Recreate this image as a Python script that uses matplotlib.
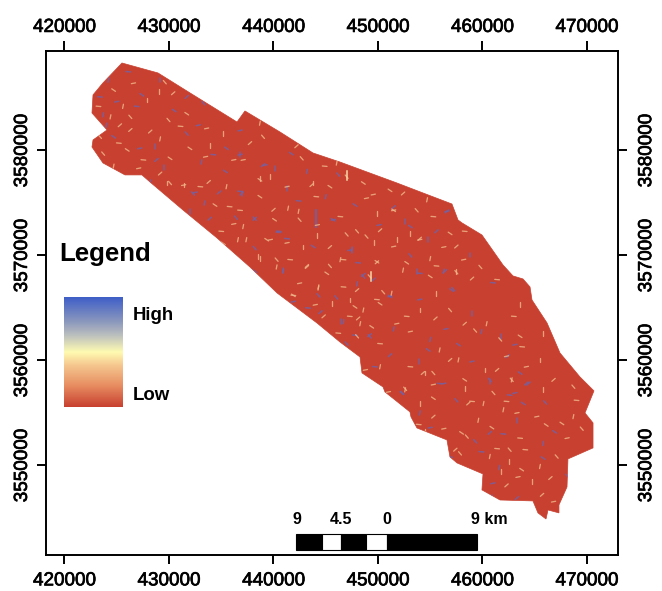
import numpy as np
import matplotlib
matplotlib.use("Agg")
import matplotlib.pyplot as plt
import matplotlib.patheffects as pe
from matplotlib.colors import LinearSegmentedColormap
from matplotlib.patches import Rectangle

plt.rcParams['font.family'] = ['Liberation Sans', 'DejaVu Sans']

# --- data (map units, km) ---
x_ticks = [420000, 430000, 440000, 450000, 460000, 470000]
y_ticks = [3550000, 3560000, 3570000, 3580000]

outline_x = [425.50,428.95,432.01,436.51,437.27,440.62,443.78,446.36,448.95,451.82,454.31,457.08,457.66,458.04,459.95,461.96,462.92,463.88,464.55,464.74,466.18,467.42,469.33,470.67,469.81,470.58,470.58,468.18,468.09,467.32,467.32,466.27,466.08,465.31,464.83,461.68,459.95,460.05,457.56,456.89,456.60,453.73,453.16,453.06,451.63,450.67,450.48,448.47,448.28,446.36,444.16,440.34,437.75,434.59,431.34,428.18,427.41,425.79,423.68,422.63,422.73,424.07,422.63,422.73,423.68]
outline_y = [3588.33,3587.38,3585.48,3582.71,3583.76,3581.76,3579.76,3578.90,3577.95,3576.90,3575.95,3574.90,3573.38,3573.10,3571.95,3569.10,3568.05,3567.76,3567.00,3565.76,3563.57,3560.71,3558.43,3557.10,3555.00,3554.05,3551.67,3550.62,3547.95,3546.24,3545.48,3545.76,3544.90,3545.48,3546.62,3546.71,3547.67,3549.19,3550.24,3550.81,3552.43,3553.57,3554.62,3555.10,3556.24,3557.00,3557.48,3558.81,3560.33,3561.76,3563.57,3566.43,3568.90,3571.67,3574.33,3577.00,3577.67,3577.67,3578.81,3580.33,3581.00,3581.95,3583.57,3585.29,3586.43]

blue_x = [439.19,440.15,436.96,438.2,440.47,440.94,443.8,445.73,447.5,449.56,448.6,448.1,443.2,441.7,436.8,441.26,456.6,453.1,454.0,456.3,457.05,451.15,454.8,451.5,446.2,
          426.1,424.2,427.4,425.0,429.15,431.7,433.3,423.4,423.7,424.7,427.2,428.7,428.8,431.7,434.25,433.1,435.4,436.8,436.8,439.0,432.3,436.8,428.2,435.5,
          432.5,437.0,438.2,438.2,440.5,440.9,438.2,441.9,446.5,449.2,447.0,449.7,448.0,445.7,447.3,432.0,433.9,444.3,441.3,433.4,
          451.15,454.0,453.7,456.4,457.2,461.0,459.9,457.7,459.0,453.9,451.15,449.2,447.8,446.7,463.6,463.1,461.8,464.4,452.3,455.9,447.5,453.1,456.6,458.8,448.6,460.7,462.6,455.0,
          463.9,463.1,463.3,460.7,459.3,459.9,465.8,465.8,461.0,460.9,463.3,468.1,456.9,454.0,452.3,456.3,460.7,464.2,457.5,
          426.9,424.0,430.5,432.8,429.5,434.8,436.4,442.4,445.0,447.8,450.1,452.6,455.6,446.0,443.3,451.5,454.8,456.5,459.0,462.4,466.0,462.0,461.6,466.9,455.0,448.0,444.5]
blue_y = [3578.6,3578.3,3575.9,3573.5,3572.2,3568.5,3570.85,3573.4,3570.5,3567.7,3568.0,3569.3,3578.0,3579.7,3579.6,3576.4,3574.2,3570.0,3568.3,3568.5,3566.7,3566.1,3571.5,3574.6,3577.7,
          3587.5,3586.7,3585.3,3584.65,3586.7,3585.1,3584.5,3585.1,3583.4,3581.3,3580.2,3580.4,3579.1,3581.6,3579.6,3578.9,3578.0,3581.9,3579.6,3578.6,3575.9,3576.1,3577.0,3580.2,
          3576.0,3575.9,3573.5,3570.7,3572.3,3568.6,3568.5,3565.6,3563.7,3562.4,3561.6,3559.4,3567.3,3573.4,3570.5,3574.2,3573.5,3566.2,3571.6,3575.0,
          3566.1,3565.8,3568.5,3568.5,3566.8,3567.4,3562.75,3561.5,3559.9,3559.9,3560.5,3562.3,3562.4,3563.7,3558.8,3561.5,3562.3,3557.8,3556.9,3557.8,3570.6,3572.75,3574.2,3570.05,3568.15,3558.15,3556.7,3562.0,
          3555.9,3556.9,3554.3,3553.1,3552.3,3551.3,3552.1,3550.7,3548.3,3547.0,3546.9,3549.0,3550.8,3555.0,3556.9,3557.8,3558.0,3557.8,3556.2,
          3584.2,3582.4,3583.8,3582.4,3578.4,3576.0,3573.6,3575.2,3575.6,3574.8,3572.9,3573.2,3572.3,3566.0,3565.0,3563.0,3561.0,3563.0,3564.5,3560.4,3556.0,3553.0,3549.8,3553.2,3553.6,3560.0,3564.6]

cream_x = [444.2,444.2,449.9,447.0,444.1,441.4,440.1,436.2,438.7,443.65,440.3,441.9,444.3,451.15,451.5,453.1,454.0,457.5,458.3,438.7,445.4,448.9,
           429.05,425.3,423.7,425.2,429.15,430.1,427.1,433.9,428.2,429.95,431.1,424.4,432.0,433.5,431.4,433.8,429.6,
           435.0,440.3,441.9,444.0,445.6,448.1,449.2,449.9,436.6,434.4,431.4,438.7,443.2,447.0,446.2,444.3,
           449.9,454.0,457.5,458.3,459.3,452.75,451.3,447.8,453.1,454.5,461.4,462.8,463.8,452.6,458.3,451.0,465.8,459.0,461.7,447.3,457.7,451.5,448.8,463.6,
           454.3,452.6,459.0,459.6,460.9,465.2,461.8,466.5,457.85,453.9,460.1,467.6,468.1,462.5,465.7,469.5,463.6,462.8,455.3,
           455.3,458.3,458.65,461.05,462.3,462.0,458.0,456.3,454.5,455.3,462.6,464.1,465.5,463.75,463.4,464.7,462.3,467.1,469.0,468.7,466.1,463.3,454.0,457.4,458.5,461.4,460.7,468.1,466.8,465.8,
           442.2,442.7,444.9,446.05,448.6,449.55,449.9,452.4,453.7,455.3,454.7,456.9,456.3,451.8,450.2,448.0,446.4,442.4,438.7,437.1,439.7,437.75,439.0,436.8,437.4,439.35,441.3,438.55,443.2,445.4,446.7,452.4,455.0,458.2,455.6,448.0,450.5,
           446.7,448.3,450.2,451.8,454.0,455.5,456.9,455.6,455.0,452.75,451.5,449.6,457.5,459.8,461.4,460.4,463.6,462.3,460.25,456.9,455.3,453.1,450.2,449.4,464.2,465.5,466.8,468.7,463.0,455.9,
           424.7,426.6,427.9,430.4,426.3,423.25,425.6,431.7,433.6,435.2,426.3,423.4,427.55,424.7,426.0,436.2,429.8,429.15,
           430.1,433.0,435.5,438.7,441.3,443.8,440.0,442.5,435.8,437.1,435.2,439.7,442.85,445.4,448.9,441.6,446.4,445.1,442.5,447.3,444.8,448.0,450.2,448.6]
cream_y = [3572.9,3571.9,3569.35,3572.0,3575.6,3574.5,3573.4,3573.0,3577.3,3576.7,3569.6,3566.2,3566.9,3576.2,3574.3,3572.1,3571.6,3568.4,3572.3,3582.6,3576.55,3575.45,
           3585.6,3582.4,3579.7,3580.7,3581.1,3579.25,3578.3,3580.5,3581.8,3582.9,3582.3,3583.2,3580.2,3579.4,3576.7,3577.0,3586.5,
           3572.3,3568.9,3566.2,3565.3,3565.4,3564.0,3568.0,3565.8,3571.5,3574.8,3576.7,3569.7,3568.9,3577.5,3562.6,3567.0,
           3569.4,3571.5,3568.5,3563.5,3562.85,3564.2,3566.4,3565.1,3562.75,3558.8,3559.1,3558.15,3561.3,3557.2,3558.15,3557.0,3562.6,3567.8,3562.0,3564.2,3560.05,3574.3,3559.1,3565.3,
           3558.8,3557.3,3556.1,3554.3,3553.6,3554.65,3549.4,3548.8,3551.15,3553.9,3555.9,3554.0,3552.6,3550.4,3547.2,3553.5,3552.6,3558.15,3556.4,
           3557.7,3557.35,3555.9,3556.9,3556.1,3555.3,3553.1,3553.5,3553.2,3554.65,3551.5,3551.5,3549.9,3549.6,3548.9,3548.5,3548.1,3550.85,3556.2,3554.65,3553.85,3555.0,3555.9,3551.5,3552.75,3551.6,3550.85,3547.0,3546.55,3557.2,
           3580.4,3579.25,3578.5,3578.8,3576.9,3575.8,3574.0,3575.9,3574.3,3573.7,3575.3,3572.1,3570.8,3571.5,3572.4,3572.3,3573.7,3574.2,3575.6,3579.1,3577.5,3580.7,3581.3,3574.3,3571.5,3571.5,3571.2,3569.9,3569.0,3569.0,3569.6,3568.6,3568.0,3569.6,3566.4,3566.7,3566.5,
           3567.0,3563.5,3565.4,3563.5,3564.8,3564.0,3564.8,3569.0,3569.7,3569.3,3570.85,3571.2,3570.85,3568.9,3567.7,3563.5,3562.3,3560.4,3559.1,3560.05,3558.8,3559.4,3559.4,3563.2,3559.4,3560.05,3558.15,3557.5,3564.2,3561.0,
           3585.75,3586.4,3584.8,3585.45,3583.2,3584.2,3584.2,3583.5,3582.1,3581.6,3581.95,3581.3,3579.1,3578.5,3580.05,3579.1,3576.9,3577.8,
           3576.9,3576.55,3576.55,3577.2,3576.55,3576.9,3574.35,3573.4,3574.65,3572.75,3571.15,3571.5,3570.8,3570.8,3571.8,3569.6,3569.6,3568.3,3567.35,3565.75,3564.2,3562.3,3561.6,3564.8]

long_blue_x = [444.07]
long_blue_y = [3573.54]
long_cream_x = [449.3, 447.07]
long_cream_y = [3568.0, 3577.6]

streak_dx = [0.4, 0.0, 0.32, -0.28, 0.45, 0.08, -0.36]
streak_dy = [0.08, 0.45, 0.28, 0.32, -0.04, 0.4, 0.24]

legend_colors = ['#C8402F', '#E88F63', '#F5C78F', '#FFFBB2', '#B8BDBE', '#8A97BD', '#3F5FC8']
legend_stops = [0.0, 0.2, 0.38, 0.5, 0.66, 0.78, 1.0]

scale_edges = [442.2, 444.61, 446.49, 448.85, 450.83, 459.45]
scale_fill = ['black', 'white', 'black', 'white', 'black']
scale_labels = ['9', '4.5', '0', '9 km']

# --- figure ---
W, H = 662, 591
fig = plt.figure(figsize=(W / 100, H / 100), dpi=100, facecolor='white')
L, R, T, B = 45.5, 618, 50.5, 555
ax = fig.add_axes([L / W, 1 - B / H, (R - L) / W, (B - T) / H])
ax.set_xlim(418182, 472970)
ax.set_ylim(3541470, 3589520)

ox = np.array(outline_x) * 1000
oy = np.array(outline_y) * 1000
poly = ax.fill(ox, oy, color='#C8402F', lw=0.5, zorder=2)[0]


def streaks(xs, ys, color, lw, alpha, z):
    for i, (x, y) in enumerate(zip(xs, ys)):
        dx = streak_dx[i % len(streak_dx)] * 1000
        dy = streak_dy[i % len(streak_dy)] * 1000
        ln, = ax.plot([x * 1000 - dx / 2, x * 1000 + dx / 2],
                      [y * 1000 - dy / 2, y * 1000 + dy / 2],
                      color=color, lw=lw, alpha=alpha, zorder=z,
                      solid_capstyle='round')
        ln.set_clip_path(poly)


streaks(blue_x, blue_y, '#7063A8', 1.1, 0.8, 3)
streaks(cream_x, cream_y, '#F0B98C', 0.95, 0.8, 4)
for xv, yv in zip(long_blue_x, long_blue_y):
    ax.plot([xv * 1000] * 2, [yv * 1000 - 800, yv * 1000 + 800], color='#6E62A8', lw=1.2, zorder=3)
for xv, yv in zip(long_cream_x, long_cream_y):
    ax.plot([xv * 1000] * 2, [yv * 1000 - 450, yv * 1000 + 450], color='#F6D8A6', lw=1.1, zorder=4)

# legend
cmap = LinearSegmentedColormap.from_list('lg', list(zip(legend_stops, legend_colors)))
grad = np.linspace(0, 1, 256)[:, None]
ax.imshow(grad, cmap=cmap, origin='lower', aspect='auto',
          extent=(420000, 425600, 3555580, 3566050), zorder=3)
ax.set_xlim(418182, 472970)
ax.set_ylim(3541470, 3589520)
ax.text(419500, 3570180, 'Legend', fontsize=18.6, fontweight='bold', ha='left', va='center')
ax.text(426500, 3564290, 'High', fontsize=13.4, fontweight='bold', ha='left', va='center')
ax.text(426500, 3556690, 'Low', fontsize=13.4, fontweight='bold', ha='left', va='center')

# scale bar
for i, c in enumerate(scale_fill):
    ax.add_patch(Rectangle((scale_edges[i] * 1000, 3541950),
                           (scale_edges[i + 1] - scale_edges[i]) * 1000, 1530,
                           facecolor=c, edgecolor='black', lw=0.8, zorder=5))
for xv, s in zip([442.2, 446.49, 450.83], scale_labels[:3]):
    ax.text(xv * 1000, 3544100, s, fontsize=11.5, fontweight='bold', ha='center', va='bottom', zorder=6)
ax.text(458.9 * 1000, 3544100, scale_labels[3], fontsize=11.5, fontweight='bold', ha='left', va='bottom', zorder=6)

# axes styling: primary axis carries bottom/left labels, secondary axes top/right
for s in ax.spines.values():
    s.set_linewidth(1.4)
stroke = [pe.withStroke(linewidth=0.5, foreground='black')]
ax.set_xticks(x_ticks)
ax.set_yticks(y_ticks)
ax.set_xticklabels([str(v) for v in x_ticks])
ax.set_yticklabels([str(v) for v in y_ticks], rotation=90, va='center')
ax.tick_params(axis='x', length=6.5, width=1.4, labelsize=13.6, pad=6)
ax.tick_params(axis='y', length=6.5, width=1.4, labelsize=13.6, pad=4)

top = ax.secondary_xaxis('top')
top.set_xticks(x_ticks)
top.set_xticklabels([str(v) for v in x_ticks])
top.tick_params(length=6.5, width=1.4, labelsize=13.6, pad=4)
right = ax.secondary_yaxis('right')
right.set_yticks(y_ticks)
right.set_yticklabels([str(v) for v in y_ticks], rotation=90, va='center')
right.tick_params(length=6.5, width=1.4, labelsize=13.6, pad=8)
for a in (top, right):
    for s in a.spines.values():
        s.set_visible(False)
    for lab in a.get_xticklabels() + a.get_yticklabels():
        lab.set_path_effects(stroke)
for lab in ax.get_xticklabels() + ax.get_yticklabels():
    lab.set_path_effects(stroke)

fig.savefig('out.png', dpi=100, facecolor='white')
